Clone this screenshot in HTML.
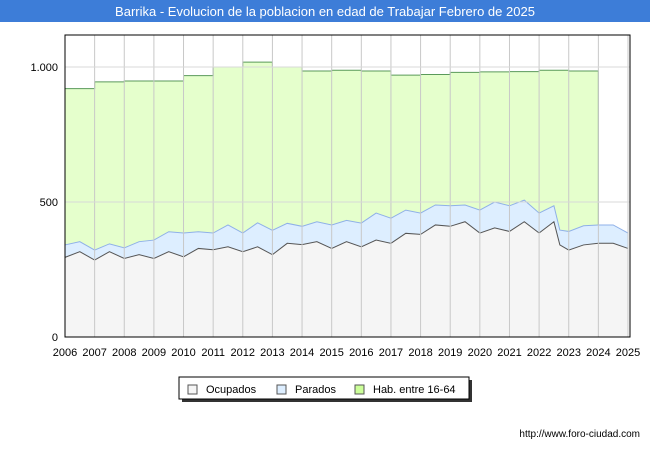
<!DOCTYPE html>
<html><head><meta charset="utf-8"><style>
body{margin:0;width:650px;height:450px;background:#fff;font-family:"Liberation Sans",sans-serif;overflow:hidden}
</style></head><body>
<svg width="650" height="450" xmlns="http://www.w3.org/2000/svg">
<rect x="0" y="0" width="650" height="22" fill="#3d7dd8"/>
<text x="325" y="16" text-anchor="middle" fill="#fff" font-size="13">Barrika - Evolucion de la poblacion en edad de Trabajar Febrero de 2025</text>
<g id="plot"></g>
<rect x="65" y="35" width="565" height="302" fill="none" stroke="#000" stroke-width="1"/>
<g>
<rect x="182" y="380" width="290" height="22" fill="#333"/>
<rect x="179" y="377" width="290" height="22" fill="#fff" stroke="#000"/>
<rect x="188" y="385" width="9" height="9" fill="#f5f5f5" stroke="#555"/>
<text x="206" y="393" font-size="11">Ocupados</text>
<rect x="277" y="385" width="9" height="9" fill="#ddeeff" stroke="#555"/>
<text x="295" y="393" font-size="11">Parados</text>
<rect x="355" y="385" width="9" height="9" fill="#ccff99" stroke="#555"/>
<text x="373" y="393" font-size="11">Hab. entre 16-64</text>
</g>
<text x="640" y="437" text-anchor="end" font-size="10">http://www.foro-ciudad.com</text>
</svg>
<script>
const habYears=[2006,2007,2008,2009,2010,2011,2012,2013,2014,2015,2016,2017,2018,2019,2020,2021,2022,2023];
const habValues=[920,945,948,948,968,1000,1018,1000,985,988,985,970,972,980,982,983,988,985];
const times=[2006,2006.5,2007,2007.5,2008,2008.5,2009,2009.5,2010,2010.5,2011,2011.5,2012,2012.5,2013,2013.5,2014,2014.5,2015,2015.5,2016,2016.5,2017,2017.5,2018,2018.5,2019,2019.5,2020,2020.5,2021,2021.5,2022,2022.5,2022.7,2023,2023.5,2024,2024.5,2025];
const parados=[341,353,322,345,330,353,359,390,385,390,385,415,385,423,395,421,410,427,415,432,422,459,440,470,459,489,486,489,470,500,486,507,459,486,396,391,412,415,415,385];
const ocupados=[295,316,285,316,291,305,291,316,297,328,323,334,316,334,305,347,342,353,328,353,334,359,347,384,380,415,410,427,385,404,391,427,385,427,341,322,341,347,347,328];
const xTicks=[2006,2007,2008,2009,2010,2011,2012,2013,2014,2015,2016,2017,2018,2019,2020,2021,2022,2023,2024,2025];
const yTicks=[0,500,1000];
const yTickLabels=["0","500","1.000"];
const X=t=>65+(t-2006)*(563/19);
const Y=v=>337-v*0.27;
const ns="http://www.w3.org/2000/svg";
const g=document.getElementById('plot');
function mk(tag,attrs){const e=document.createElementNS(ns,tag);for(const k in attrs)e.setAttribute(k,attrs[k]);g.appendChild(e);return e;}
// hab area
let d="M"+X(2006)+","+Y(0);
habYears.forEach((yr,i)=>{d+=" L"+X(yr)+","+Y(habValues[i])+" L"+X(yr+1)+","+Y(habValues[i]);});
d+=" L"+X(2024)+","+Y(0)+" Z";
let e=mk('path',{d:d,fill:'#e5ffcc'});


let ld="M"+X(2006)+","+Y(habValues[0]);
habYears.forEach((yr,i)=>{ld+=" L"+X(yr)+","+Y(habValues[i])+" L"+X(yr+1)+","+Y(habValues[i]);});
ld+=" L"+X(2024)+","+Y(parados[37]);
e=mk('path',{d:ld,fill:'none',stroke:'#5a9a5a','stroke-width':1});


function series(arr,fill,stroke,name){
 let p="M"+X(times[0])+","+Y(0);
 times.forEach((t,i)=>p+=" L"+X(t)+","+Y(arr[i]));
 p+=" L"+X(2025)+","+Y(0)+" Z";
 let a=mk('path',{d:p,fill:fill});
 
 
 let l="M"+times.map((t,i)=>X(t)+","+Y(arr[i])).join(" L");
 let b=mk('path',{d:l,fill:'none',stroke:stroke,'stroke-width':1});
 
 
}
series(parados,'#ddeeff','#8fb0e8','parados');
series(ocupados,'#f5f5f5','#555','ocupados');
// grid
xTicks.forEach(t=>{
 let l=mk('line',{x1:X(t),x2:X(t),y1:35,y2:337,stroke:'#c8c8c8','stroke-width':1});
 
 
 let tx=mk('text',{x:X(t),y:356,'text-anchor':'middle','font-size':11});
 tx.textContent=t;
 
 
});
yTicks.forEach((v,i)=>{
 let l=mk('line',{x1:65,x2:630,y1:Y(v),y2:Y(v),stroke:'#d8d8d8','stroke-width':1});
 
 
 let tx=mk('text',{x:58,y:Y(v)+4,'text-anchor':'end','font-size':11});
 tx.textContent=yTickLabels[i];
 
 
});
</script>
</body></html>
